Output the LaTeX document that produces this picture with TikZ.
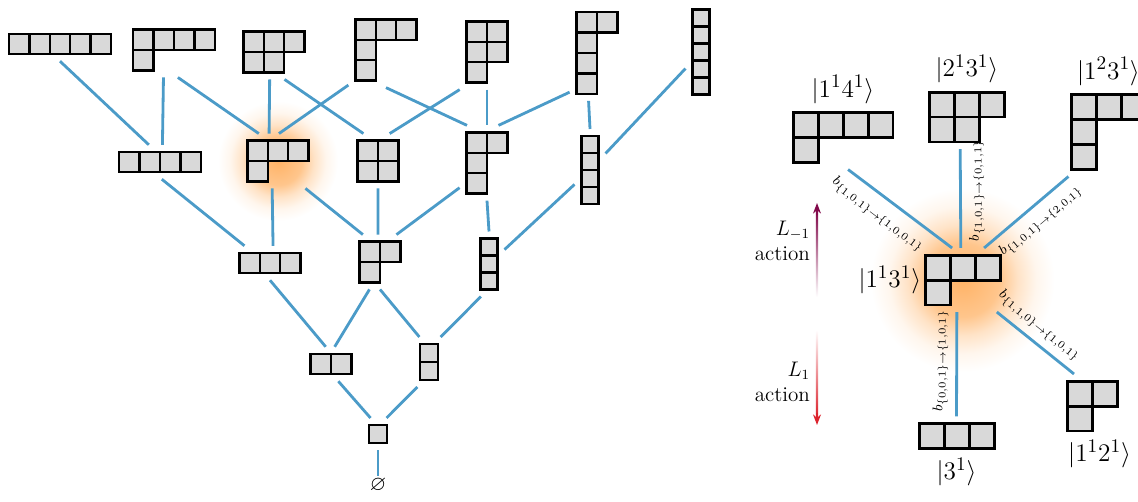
\documentclass[tikz,border=0pt]{standalone}
\usepackage{amssymb}
\usetikzlibrary{arrows.meta,positioning}

\definecolor{azulArista}{RGB}{75,155,200}
\definecolor{grisCelda}{RGB}{217,217,217}
\definecolor{morado}{RGB}{130,10,75}
\definecolor{rojo}{RGB}{220,35,45}

\pgfdeclareradialshading{brillo}{\pgfpoint{0bp}{0bp}}{%
  color(0bp)=(orange!60); color(10bp)=(orange!45); color(15bp)=(orange!22);
  color(20bp)=(orange!7); color(25bp)=(white); color(50bp)=(white)}

\tikzset{
  caja/.style={inner sep=0pt, outer sep=4pt},
  celda/.style={draw=black, fill=grisCelda, line width=1.4pt},
  arista/.style={draw=azulArista, line width=1.6pt},
  ket/.style={font=\fontsize{15}{18}\selectfont, inner sep=1pt},
  etiq/.style={font=\footnotesize, sloped, allow upside down, inner sep=2pt},
  accion/.style={font=\large, align=right, anchor=east, inner sep=1pt},
}

% \young[lado]{nombre}{posicion}{filas}
\newcommand{\young}[4][0.408cm]{%
  \foreach \r [count=\i] in {#4}{%
    \ifnum\i=1 \xdef\ncols{\r}\fi
    \xdef\nrows{\i}}%
  \node[caja, minimum width=\ncols*#1, minimum height=\nrows*#1] (#2) at (#3) {};
  \foreach \r [count=\i] in {#4}{%
    \foreach \c in {1,...,\r}{%
      \draw[celda] ([xshift={(\c-1-\ncols/2)*#1}, yshift={(\nrows/2-\i+1)*#1}]#2.center)
        rectangle ++(#1,-#1);
    }}%
}

\begin{document}
\begin{tikzpicture}[x=0.02cm, y=-0.02cm]
  \useasboundingbox (0,0) rectangle (1138,501);

  % Brillo
  \coordinate (gL) at (278,161);
  \coordinate (gR) at (962.5,280);
  \shade[shading=brillo] (gL) circle (60);
  \shade[shading=brillo] (gR) circle (92);

  % Reticulo de Young
  \young{L5}{60,44}{5}
  \young{L41}{174,50}{4,1}
  \young{L32}{274,52}{3,2}
  \young{L311}{386,50}{3,1,1}
  \young{L221}{487,52}{2,2,1}
  \young{L2111}{597,53}{2,1,1,1}
  \young[0.34cm]{L11111}{701,52}{1,1,1,1,1}

  \young{L4}{160,162}{4}
  \young{L31}{gL}{3,1}
  \young{L22}{378,161}{2,2}
  \young{L211}{487,163}{2,1,1}
  \young[0.34cm]{L1111}{590,170}{1,1,1,1}

  \young{L3}{270,263}{3}
  \young{L21}{380,262}{2,1}
  \young[0.34cm]{L111}{489,264}{1,1,1}

  \young{L2}{331,364}{2}
  \young[0.36cm]{L11}{429,362}{1,1}

  \young[0.36cm]{L1}{378,434}{1}
  \node[inner sep=1pt] (vacio) at (378,485) {\large$\varnothing$};

  % Aristas
  \draw[arista] (L5.south) -- (L4.123);
  \draw[arista] (L41.-111) -- (L4.82);
  \draw[arista] (L41.-82) -- (L31.125);
  \draw[arista] (L32.-99) -- (L31.108);
  \draw[arista] (L311.-137) -- (L31.88);
  \draw[arista] (L32.-69) -- (L22.118);
  \draw[arista] (L221.-126) -- (L22.67);
  \draw[arista] (L311.south) -- (L211.118);
  \draw[arista] (L221.south) -- (L211.north);
  \draw[arista] (L2111.-125) -- (L211.73);
  \draw[arista] (L2111.-100) -- (L1111.north);
  \draw[arista] (L11111) -- (L1111);

  \draw[arista] (L4.-84) -- (L3.146);
  \draw[arista] (L31.-102) -- (L3.80);
  \draw[arista] (L31.-45) -- (L21.122);
  \draw[arista] (L22.south) -- (L21.94);
  \draw[arista] (L211.-138) -- (L21.59);
  \draw[arista] (L211.south) -- (L111.north);
  \draw[arista] (L1111) -- (L111);

  \draw[arista] (L3.south) -- (L2.107);
  \draw[arista] (L21.-111) -- (L2.78);
  \draw[arista] (L21.south) -- (L11.111);
  \draw[arista] (L111.-104) -- (L11.65);

  \draw[arista] (L2.-67) -- (L1.115);
  \draw[arista] (L11.-115) -- (L1.62);
  \draw[arista] (L1.south) -- (vacio.north);

  % Vecinos de |1^1 3^1>
  \begin{scope}[celda/.append style={line width=1.7pt}]
    \young[0.5cm]{R14}{843,137.5}{4,1}
    \young[0.5cm]{R32}{967,117}{3,2}
    \young[0.5cm]{R311}{1108.5,132}{3,1,1}
    \young[0.5cm]{R31}{gR}{3,1}
    \young[0.5cm]{R3}{956.5,436}{3}
    \young[0.5cm]{R21}{1092.5,406}{2,1}
  \end{scope}

  \node[ket, above=0pt of R14] (k14) {$|1^14^1\rangle$};
  \node[ket, above=0pt of R32] (k32) {$|2^13^1\rangle$};
  \node[ket, above=0pt of R311] (k311) {$|1^23^1\rangle$};
  \node[ket, left=-3pt of R31] (k31) {$|1^13^1\rangle$};
  \node[ket, below=0pt of R3] (k3) {$|3^1\rangle$};
  \node[ket, below=0pt of R21, xshift=4pt] (k21) {$|1^12^1\rangle$};

  \draw[arista] (R14.-81) -- node[etiq, below=3pt, pos=0.39]
    {$b_{\{1,0,1\}\to\{1,0,0,1\}}$} (R31.108);
  \draw[arista] (R31.93) -- node[etiq, below=2pt, pos=0.58]
    {$b_{\{1,0,1\}\to\{0,1,1\}}$} (R32.-102);
  \draw[arista] (R31.56) -- node[etiq, below=2pt, pos=0.55]
    {$b_{\{1,0,1\}\to\{2,0,1\}}$} (R311.228);
  \draw[arista] (R3.north) -- node[etiq, above=2pt, pos=0.53]
    {$b_{\{0,0,1\}\to\{1,0,1\}}$} (R31.-100);
  \draw[arista] (R31.-43) -- node[etiq, above=2pt, pos=0.42]
    {$b_{\{1,1,0\}\to\{1,0,1\}}$} (R21.120);

  % Flechas de accion
  \coordinate (am1) at (817,297);
  \coordinate (bm1) at (817,203);
  \shade[top color=morado, bottom color=white]
    ([xshift=-0.6pt]am1) rectangle ([xshift=0.6pt, yshift=-5pt]bm1);
  \draw[morado, line width=1.2pt, -{Stealth[length=6pt, width=4.5pt]}]
    ([yshift=-7pt]bm1) -- (bm1);

  \coordinate (ap1) at (817,330);
  \coordinate (bp1) at (817,425);
  \shade[top color=white, bottom color=rojo]
    ([xshift=-0.6pt]ap1) rectangle ([xshift=0.6pt, yshift=5pt]bp1);
  \draw[rojo, line width=1.2pt, -{Stealth[length=6pt, width=4.5pt]}]
    ([yshift=7pt]bp1) -- (bp1);

  \node[accion] (acc1) at (812,241) {$L_{-1}$\\action};
  \node[accion] (acc2) at (812,382) {$L_1$\\action};

\end{tikzpicture}
\end{document}
